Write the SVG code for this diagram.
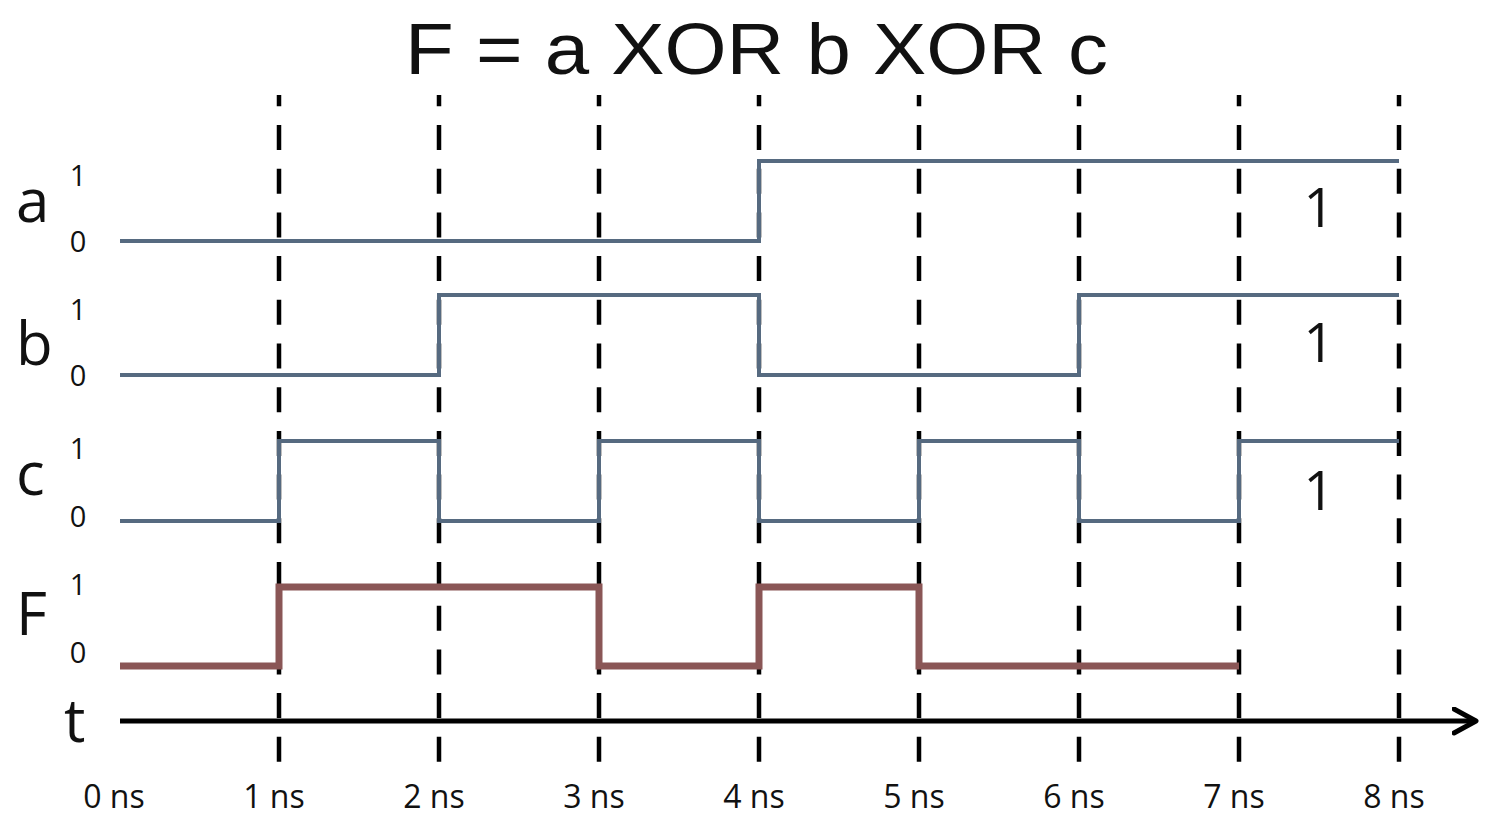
<svg xmlns="http://www.w3.org/2000/svg" width="1486" height="822" viewBox="0 0 1486 822">
<style>
text{font-family:"Open Sans","Liberation Sans",sans-serif;fill:#111}
.title{font-size:72px;font-family:"Liberation Sans","Open Sans",sans-serif}
.sig{font-size:60px}
.lv{font-size:29px;text-anchor:middle}
.tm{font-size:32px;text-anchor:middle}
.big1{font-size:54px;text-anchor:middle}
.grid{stroke:#000;stroke-width:4.5;stroke-dasharray:25 18.7;stroke-dashoffset:13.7;fill:none}
.w{stroke:#566a80;stroke-width:4;fill:none;stroke-linejoin:miter}
.f{stroke:#8a5656;stroke-width:7;fill:none}
</style>
<defs>
<marker id="arr" markerWidth="30" markerHeight="30" refX="24" refY="14" orient="auto" markerUnits="userSpaceOnUse" viewBox="0 0 30 30">
<path d="M2,2 L24,14 L2,26" fill="none" stroke="#000" stroke-width="5" stroke-linecap="round" stroke-linejoin="round"/>
</marker>
</defs>
<rect width="1486" height="822" fill="#fff"/>
<text class="title" x="405" y="74" textLength="703" lengthAdjust="spacingAndGlyphs">F = a XOR b XOR c</text>

<g id="labels">
<text class="sig" x="16" y="222">a</text>
<text class="sig" x="16" y="365">b</text>
<text class="sig" x="16" y="495">c</text>
<text class="sig" x="16" y="635">F</text>
<text class="sig" x="64" y="742" font-size="62">t</text>
<text class="lv" x="78" y="186">1</text>
<text class="lv" x="78" y="252">0</text>
<text class="lv" x="78" y="320">1</text>
<text class="lv" x="78" y="386">0</text>
<text class="lv" x="78" y="459">1</text>
<text class="lv" x="78" y="527">0</text>
<text class="lv" x="78" y="595">1</text>
<text class="lv" x="78" y="663">0</text>
</g>

<g id="grid">
<line class="grid" x1="279" y1="95" x2="279" y2="762"/>
<line class="grid" x1="439" y1="95" x2="439" y2="762"/>
<line class="grid" x1="599" y1="95" x2="599" y2="762"/>
<line class="grid" x1="759" y1="95" x2="759" y2="762"/>
<line class="grid" x1="919" y1="95" x2="919" y2="762"/>
<line class="grid" x1="1079" y1="95" x2="1079" y2="762"/>
<line class="grid" x1="1239" y1="95" x2="1239" y2="762"/>
<line class="grid" x1="1399" y1="95" x2="1399" y2="762"/>
</g>

<g id="connectors">
<polyline id="wave-a" class="w" points="120,241 759,241 759,161 1399,161"/>
<polyline id="wave-b" class="w" points="120,375 439,375 439,295 759,295 759,375 1079,375 1079,295 1399,295"/>
<polyline id="wave-c" class="w" points="120,521 279,521 279,441 439,441 439,521 599,521 599,441 759,441 759,521 919,521 919,441 1079,441 1079,521 1239,521 1239,441 1399,441"/>
<polyline id="wave-F" class="f" points="120,666 279,666 279,587 599,587 599,666 759,666 759,587 919,587 919,666 1239,666"/>
<line id="t-axis" x1="120" y1="721" x2="1476" y2="721" stroke="#000" stroke-width="5" marker-end="url(#arr)"/>
</g>

<g id="time-labels">
<text class="tm" x="114" y="808">0 ns</text>
<text class="tm" x="274" y="808">1 ns</text>
<text class="tm" x="434" y="808">2 ns</text>
<text class="tm" x="594" y="808">3 ns</text>
<text class="tm" x="754" y="808">4 ns</text>
<text class="tm" x="914" y="808">5 ns</text>
<text class="tm" x="1074" y="808">6 ns</text>
<text class="tm" x="1234" y="808">7 ns</text>
<text class="tm" x="1394" y="808">8 ns</text>
</g>

<g id="values">
<text class="big1" x="1319" y="227">1</text>
<text class="big1" x="1319" y="362">1</text>
<text class="big1" x="1319" y="510">1</text>
</g>
</svg>
